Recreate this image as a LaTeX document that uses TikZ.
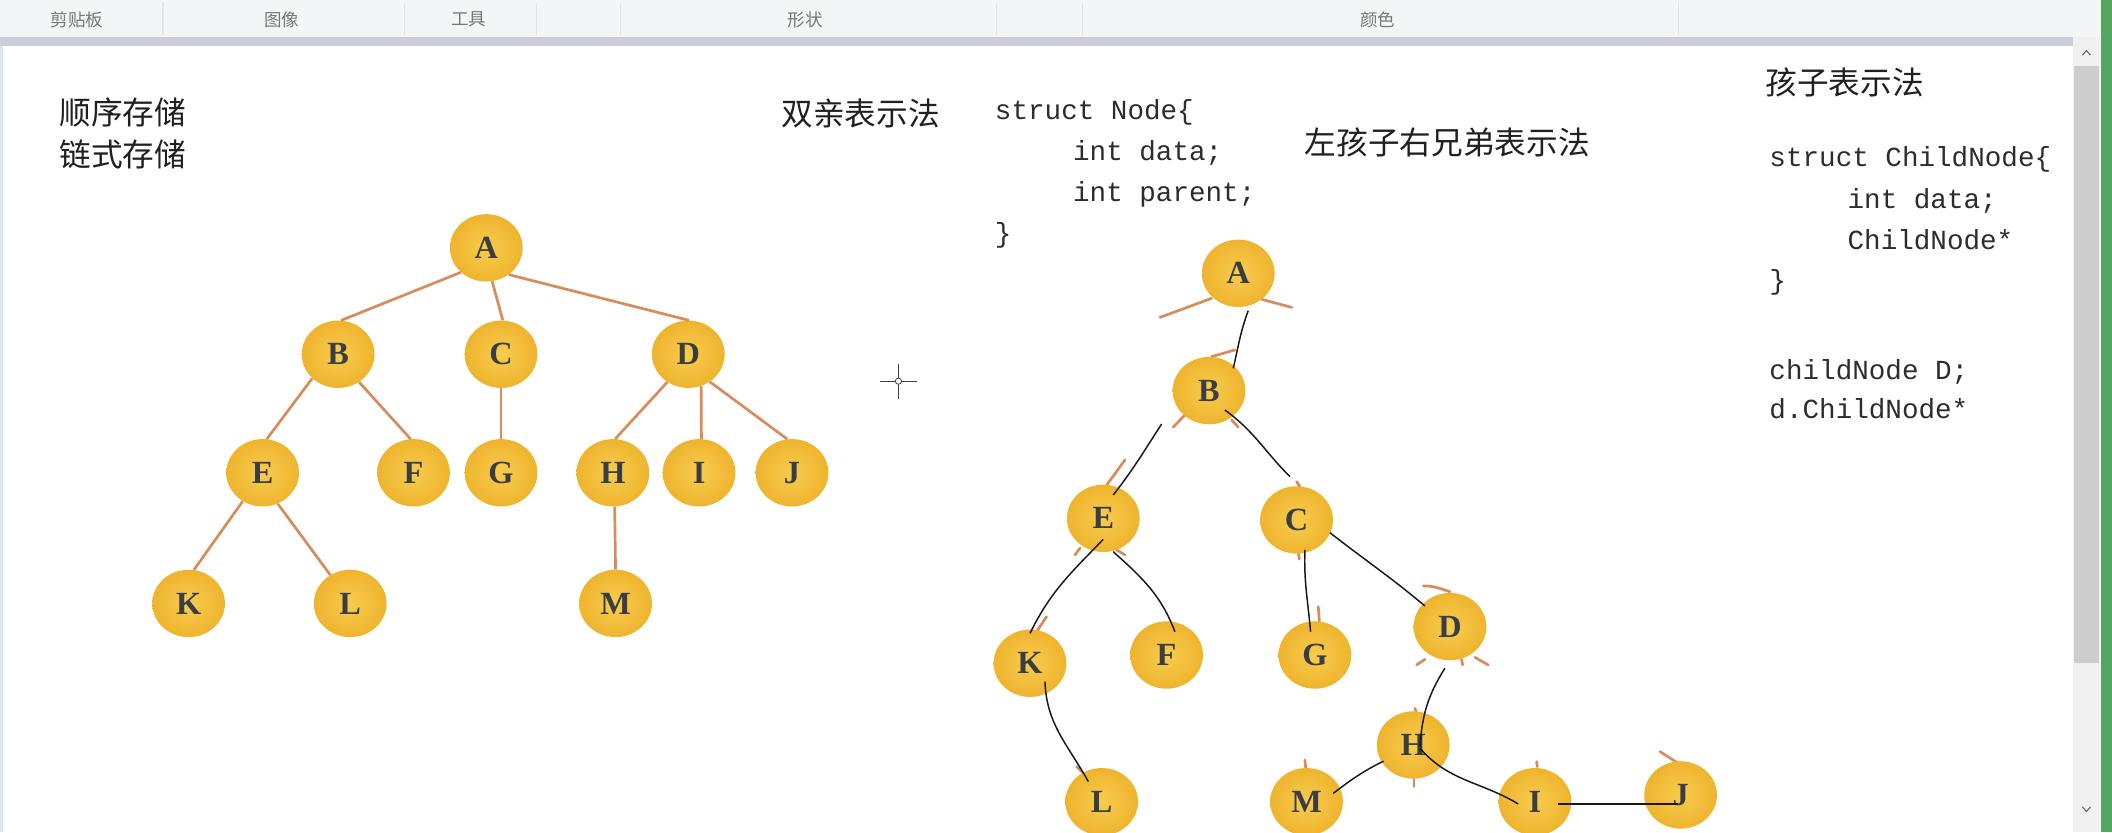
\documentclass[tikz,border=0pt]{standalone}
\usepackage{fontspec}
\setmainfont{Liberation Serif}
\newfontfamily\cjk{Noto Sans CJK SC}
\newfontfamily\code{Liberation Mono}
\usetikzlibrary{shapes.geometric}
\definecolor{edgeor}{RGB}{214,140,92}
\definecolor{nodein}{RGB}{248,204,78}
\definecolor{nodeout}{RGB}{238,180,46}
\definecolor{lettc}{RGB}{58,62,66}
\definecolor{txtc}{RGB}{32,32,32}
\definecolor{codec}{RGB}{45,45,45}
\definecolor{toolbg}{RGB}{244,245,247}
\definecolor{sepc}{RGB}{226,228,232}
\definecolor{toolt}{RGB}{120,120,120}
\definecolor{barc}{RGB}{203,206,218}
\definecolor{trackc}{RGB}{240,240,240}
\definecolor{thumbc}{RGB}{205,205,205}
\definecolor{greenc}{RGB}{82,166,94}
\definecolor{leftc}{RGB}{222,228,238}
\definecolor{penc}{RGB}{25,25,25}
\begin{document}
\begin{tikzpicture}[x=1pt,y=1pt,
  tnode/.style={ellipse, minimum width=54pt, minimum height=50pt, inner sep=0pt,
    inner color=nodein, outer color=nodeout, text=lettc,
    font=\fontsize{24}{24}\selectfont\bfseries},
  oredge/.style={draw=edgeor, line width=2pt},
  stub/.style={draw=edgeor, line width=2pt, line cap=round},
  pen/.style={draw=penc, line width=1.1pt},
  cjktext/.style={anchor=west, inner sep=0pt, text=txtc, font=\cjk\fontsize{23.5}{28}\selectfont},
  codetext/.style={anchor=base west, inner sep=0pt, text=codec, font=\code\fontsize{20.5}{24}\selectfont},
  toollabel/.style={inner sep=0pt, text=toolt, font=\cjk\fontsize{13}{13}\selectfont},
  sepline/.style={draw=sepc, line width=0.8pt}
]
\useasboundingbox (0,0) rectangle (1568,-618);
\fill[white] (0,0) rectangle (1568,-618);
% ---------- window chrome ----------
\fill[toolbg] (0,0) rectangle (1560,-27.5);
\foreach \sx in {121,300,398,461,740,804,1246} {\draw[sepline] (\sx,-2) -- (\sx,-26);}
\node[toollabel] (tb1) at (57,-14.5) {剪贴板};
\node[toollabel] (tb2) at (209,-14.5) {图像};
\node[toollabel] (tb3) at (348,-14.5) {工具};
\node[toollabel] (tb4) at (598,-14.5) {形状};
\node[toollabel] (tb5) at (1023,-14.5) {颜色};
\fill[barc] (0,-27.5) rectangle (1539,-34.5);
\fill[trackc] (1539,-27.5) rectangle (1559,-618);
\fill[thumbc] (1539.5,-49) rectangle (1558.5,-492);
\draw[black!60, line width=0.8pt] (1546,-41) -- (1549,-37.5) -- (1552,-41);
\draw[black!60, line width=0.8pt] (1546,-599) -- (1549,-602.5) -- (1552,-599);
\fill[greenc] (1560,0) rectangle (1568,-618);
\fill[leftc] (0,-34.5) rectangle (2.5,-618);
% ---------- titles ----------
\node[cjktext] (t1) at (44,-83.4) {顺序存储};
\node[cjktext] (t2) at (44,-114.4) {链式存储};
\node[cjktext] (t3) at (580,-84.3) {双亲表示法};
\node[cjktext] (t4) at (968.5,-105.6) {左孩子右兄弟表示法};
\node[cjktext] (t5) at (1310.5,-61.1) {孩子表示法};
% ---------- code ----------
\node[codetext] (c1) at (738.5,-88.6) {struct Node\{};
\node[codetext] (c2) at (796.5,-119) {int data;};
\node[codetext] (c3) at (796.5,-149.5) {int parent;};
\node[codetext] (c4) at (738.5,-180) {\}};
\node[codetext] (d1) at (1313.5,-123.5) {struct ChildNode\{};
\node[codetext] (d2) at (1371.5,-154.5) {int data;};
\node[codetext] (d3) at (1371.5,-185) {ChildNode*};
\node[codetext] (d4) at (1313.5,-215) {\}};
\node[codetext] (d5) at (1313.5,-281.5) {childNode D;};
\node[codetext] (d6) at (1313.5,-311) {d.ChildNode*};
% ---------- left tree ----------
\node[tnode] (lA) at (361,-184) {A};
\node[tnode] (lB) at (251,-263) {B};
\node[tnode] (lC) at (372,-263) {C};
\node[tnode] (lD) at (511,-263) {D};
\node[tnode] (lE) at (195,-351) {E};
\node[tnode] (lF) at (307,-351) {F};
\node[tnode] (lG) at (372,-351) {G};
\node[tnode] (lH) at (455,-351) {H};
\node[tnode] (lI) at (519,-351) {I};
\node[tnode] (lJ) at (588,-351) {J};
\node[tnode] (lK) at (140,-448) {K};
\node[tnode] (lL) at (260,-448) {L};
\node[tnode] (lM) at (457,-448) {M};
\draw[oredge] (lA.224) -- (lB.85);
\draw[oredge] (lA.280) -- (lC.87);
\draw[oredge] (lA.310) -- (lD.89);
\draw[oredge] (lB.223) -- (lE.83);
\draw[oredge] (lB.307) -- (lF.95);
\draw[oredge] (lC.270) -- (lG.90);
\draw[oredge] (lD.233) -- (lH.86);
\draw[oredge] (lD.292) -- (lI.86);
\draw[oredge] (lD.308) -- (lJ.98);
\draw[oredge] (lE.235) -- (lK.81);
\draw[oredge] (lE.296) -- (lL.125);
\draw[oredge] (lH.273) -- (lM.90);
% ---------- crosshair cursor ----------
\draw[black!75, line width=0.8pt] (667,-270) -- (667,-296) (653,-283) -- (681,-283);
\draw[black!75, line width=0.6pt, fill=white] (667,-283) circle (2.3);
% ---------- right tree: leftover orange stubs ----------
\draw[stub] (861.2,-235.6) -- (899.5,-221.5);
\draw[stub] (936.6,-222.2) -- (958.9,-228.2);
\draw[stub] (899.5,-264.8) -- (916.8,-259.8);
\draw[stub] (871,-317.2) -- (879.7,-308.1);
\draw[stub] (914.4,-311.8) -- (919.3,-317.2);
\draw[stub] (835.2,-341.5) -- (821.6,-360.1);
\draw[stub] (962.6,-357.6) -- (965.1,-361.3);
\draw[stub] (798,-412) -- (801.8,-407);
\draw[stub] (829,-408.3) -- (835.2,-412);
\draw[stub] (769.6,-469) -- (777,-457.8);
\draw[stub] (963.9,-409.6) -- (964.6,-415.2);
\draw[stub] (978.7,-450.4) -- (979.5,-461.5);
\draw[stub] (799.3,-569.2) -- (805.5,-575.4);
\draw[stub] (968.8,-564.2) -- (969.5,-571.7);
\draw[stub] (1056.7,-435) .. controls (1064,-435.2) .. (1076.5,-439.3);
\draw[stub] (1051.7,-493.7) -- (1057.9,-489.5);
\draw[stub] (1085.1,-489.5) -- (1085.9,-493.7);
\draw[stub] (1095,-488) -- (1104.9,-493.7);
\draw[stub] (1050.5,-525.9) -- (1051.7,-529.6);
\draw[stub] (1049.7,-577.8) -- (1049.7,-584);
\draw[stub] (1140.8,-565.5) -- (1141.3,-569.2);
\draw[stub] (1232.4,-558) -- (1246,-566.7);
% ---------- right tree nodes ----------
\node[tnode] (rA) at (919.3,-202.9) {A};
\node[tnode] (rB) at (897.6,-290) {B};
\node[tnode] (rE) at (819.1,-384.8) {E};
\node[tnode] (rC) at (962.6,-386) {C};
\node[tnode] (rK) at (764.7,-492.4) {K};
\node[tnode] (rF) at (866.1,-486.3) {F};
\node[tnode] (rG) at (976.2,-486.3) {G};
\node[tnode] (rD) at (1076.5,-465.2) {D};
\node[tnode] (rH) at (1049.2,-553.1) {H};
\node[tnode] (rL) at (817.9,-595.2) {L};
\node[tnode] (rM) at (970,-595.2) {M};
\node[tnode] (rI) at (1139.6,-595.2) {I};
\node[tnode] (rJ) at (1247.7,-590.2) {J};
% ---------- right tree hand-drawn links ----------
\draw[pen] ([shift={(7.4,-27.7)}]rA.center) to[out=250,in=77] ([shift={(18,16.6)}]rB.center);
\draw[pen] ([shift={(-35.2,-24.8)}]rB.center) to[out=237,in=52] ([shift={(7.4,17.3)}]rE.center);
\draw[pen] ([shift={(11.8,-14.4)}]rB.center) to[out=324,in=135] ([shift={(-4.9,32.1)}]rC.center);
\draw[pen] ([shift={(0,-15.6)}]rE.center) to[out=226,in=64] ([shift={(0,22.2)}]rK.center);
\draw[pen] ([shift={(7.4,-24.8)}]rE.center) to[out=318,in=111] ([shift={(6.2,17.3)}]rF.center);
\draw[pen] ([shift={(6.2,-22.3)}]rC.center) to[out=268,in=95] ([shift={(-3.2,17.3)}]rG.center);
\draw[pen] ([shift={(24.8,-9.5)}]rC.center) to[out=322,in=140] ([shift={(-18.6,15.3)}]rD.center);
\draw[pen] ([shift={(11.1,-13.7)}]rK.center) to[out=272,in=119] ([shift={(-9.9,14.9)}]rL.center);
\draw[pen] ([shift={(-3.8,-30.9)}]rD.center) to[out=238,in=86] ([shift={(5,-1.2)}]rH.center);
\draw[pen] ([shift={(-22,-12)}]rH.center) to[out=206,in=37] ([shift={(19.8,6.2)}]rM.center);
\draw[pen] ([shift={(5,-2.4)}]rH.center) to[out=311,in=149] ([shift={(-12.4,-1.7)}]rI.center);
\draw[pen, line width=1.6pt] ([shift={(17.3,-1.7)}]rI.center) -- ([shift={(-1.7,-6.7)}]rJ.center);
\end{tikzpicture}
\end{document}
